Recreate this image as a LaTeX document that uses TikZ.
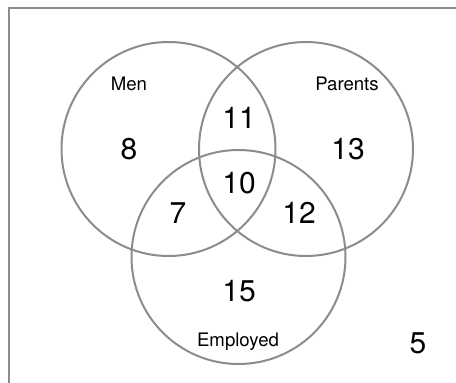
\documentclass[tikz,border=0pt]{standalone}
\usepackage{fontspec}
\setmainfont{TeX Gyre Heros}

\begin{document}
\begin{tikzpicture}[x=1pt, y=-1pt]

  % Styles for sets and counts
  \tikzset{
    set/.style={draw=gray!90, line width=2pt},
    frame/.style={draw=gray!90, line width=2pt},
    count/.style={font=\fontsize{30}{30}\selectfont, inner sep=0pt},
    setname/.style={font=\fontsize{18.6}{18.6}\selectfont, inner sep=0pt}
  }

  \useasboundingbox (0,0) rectangle (456,383);

  % Centres of the three sets
  \coordinate (M) at (168.5,149);
  \coordinate (P) at (306,149);
  \coordinate (E) at (238.5,257);

  % Frame (universe)
  \draw[frame] (8.5,383) -- (8.5,7.5) -- (456,7.5);

  % Circles
  \draw[set] (M) circle (107);
  \draw[set] (P) circle (107);
  \draw[set] (E) circle (107);

  % Set names
  \node[setname] (men) at (129,84) {Men};
  \node[setname] (parents) at (347,84) {Parents};
  \node[setname] (employed) at (238,342) {Employed};

  % Counts
  \node[count] (onlyM) at (129,149) {8};
  \node[count] (MP) at (239,118) {11};
  \node[count] (onlyP) at (348,149) {13};
  \node[count] (MPE) at (239,183) {10};
  \node[count] (ME) at (178,213) {7};
  \node[count] (PE) at (299,213) {12};
  \node[count] (onlyE) at (239,291) {15};
  \node[count] (none) at (418,343) {5};

\end{tikzpicture}
\end{document}
